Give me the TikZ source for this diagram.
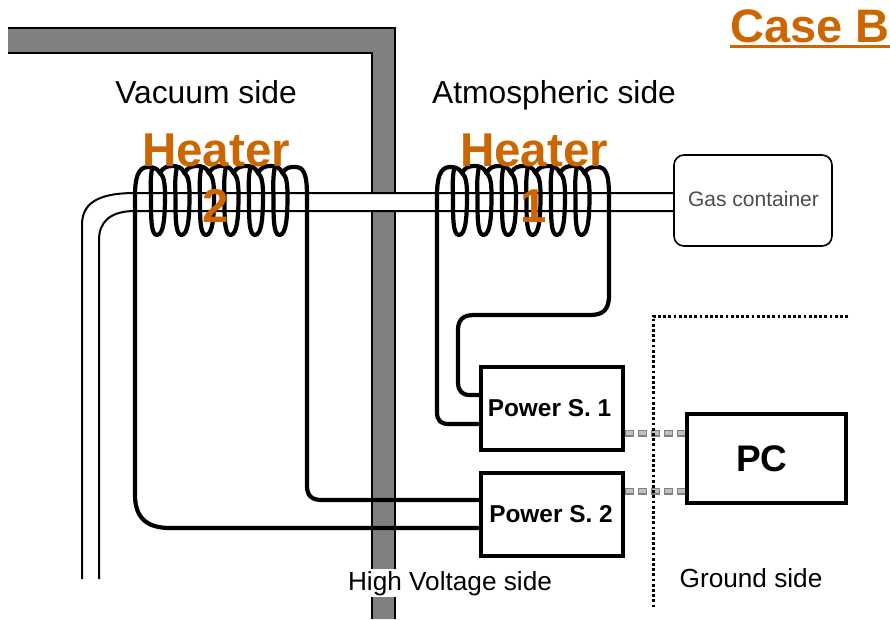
\documentclass[tikz,border=0pt]{standalone}
\usepackage{fontspec}
\setmainfont{Liberation Sans}
\definecolor{orng}{RGB}{204,102,0}
\definecolor{wallgray}{RGB}{128,128,128}
\newcommand{\coilpath}[1]{%
  \begin{scope}[xshift=#1 pt]
  \draw[wire]
    (135,196) .. controls (135,178) and (138,167) .. (148,167)
    .. controls (153,167) and (157,168) .. (160,173)
    foreach \c in {160,184.5,209,233.5,258}{
      .. controls (\c+3,167) and (\c+8,166) .. (\c+12.2,166)
      .. controls (\c+17,166) and (\c+22,167) .. (\c+24.5,173)
    }
    .. controls (286,167) and (290,167) .. (295,167)
    .. controls (303,167) and (307,172) .. (307,196);
  \foreach \c in {157,181.5,206,230.5,255,279.5}{
    \draw[wire] (\c-5,169)
      .. controls (\c-7,180) and (\c-6,190) .. (\c-6,200)
      .. controls (\c-6,218) and (\c-6,235) .. (\c,235)
      .. controls (\c+7,235) and (\c+8,215) .. (\c+8,195)
      .. controls (\c+8,184) and (\c+7,176) .. (\c+3,173);
  }
  \end{scope}}
\tikzset{
  wire/.style={line width=4.2pt,black,line join=round,line cap=round},
  tube/.style={line width=2pt,black},
  psbox/.style={draw=black,line width=4pt,fill=white,minimum width=142pt,minimum height=83pt,inner sep=0pt},
  pstext/.style={inner sep=0pt,font=\fontsize{24.4}{26}\selectfont\bfseries},
  lbl/.style={inner sep=0pt,anchor=base,font=\fontsize{31.8}{34}\selectfont},
  lblsmall/.style={inner sep=0pt,anchor=base,font=\fontsize{26.2}{30}\selectfont},
  heat/.style={inner sep=0pt,text=orng,font=\fontsize{47.5}{50}\selectfont\bfseries},
  linkout/.style={line width=7pt,black!50,dash pattern=on 8.5pt off 4.5pt},
  linkin/.style={line width=4.6pt,black!25,dash pattern=on 6.5pt off 6.5pt,dash phase=-1pt},
  bound/.style={line width=3pt,black,dash pattern=on 2.8pt off 2.4pt},
}
\begin{document}
\begin{tikzpicture}[x=1pt,y=-1pt]
\useasboundingbox (0,0) rectangle (890,619);
% wall
\fill[wallgray] (8,28) -- (395,28) -- (395,619) -- (372,619) -- (372,53) -- (8,53) -- cycle;
\draw[line width=1.4pt] (8,28) -- (395,28) -- (395,619);
\draw[line width=1.4pt] (8,53) -- (372,53) -- (372,619);
\fill[white] (371,569) rectangle (396,597);
% tube
\coordinate (tubeA) at (82,579);
\coordinate (tubeB) at (99,579);
\fill[white] (tubeA) -- (82,225) .. controls (82,205) and (95,193) .. (135,193) -- (674,193) -- (674,211) -- (135,211) .. controls (110,211) and (99,222) .. (99,240) -- (tubeB) -- cycle;
\draw[tube] (tubeA) -- (82,225) .. controls (82,205) and (95,193) .. (135,193) -- (674,193);
\draw[tube] (tubeB) -- (99,240) .. controls (99,222) and (110,211) .. (135,211) -- (674,211);
% nodes
\node[draw=black,line width=1.6pt,rounded corners=10pt,fill=white,minimum width=158pt,minimum height=91pt,inner sep=0pt] (gas) at (753,200.5) {};
\node[inner sep=0pt,anchor=base,text=black!70,font=\fontsize{21}{24}\selectfont] (gastext) at (753.5,206) {Gas container};
\node[psbox] (ps1) at (552,408.5) {};
\node[psbox] (ps2) at (552,514.5) {};
\node[pstext] (ps1t) at (549.5,408.5) {Power S. 1};
\node[pstext] (ps2t) at (551,514.5) {Power S. 2};
\node[draw=black,line width=4pt,fill=white,minimum width=159pt,minimum height=89pt,inner sep=0pt] (pc) at (766.5,458.5) {};
\node[inner sep=0pt,font=\fontsize{37}{40}\selectfont\bfseries] (pctext) at (762,458.5) {PC};
% leads
\coordinate (h1l) at (437,196);
\coordinate (h1r) at (609,196);
\coordinate (h2l) at (135,196);
\coordinate (h2r) at (307,196);
\coordinate (p1a) at (ps1.west |- 0,395);
\coordinate (p1b) at (ps1.west |- 0,424);
\coordinate (p2a) at (ps2.west |- 0,500);
\coordinate (p2b) at (ps2.west |- 0,528);
\draw[wire] (h1l) -- (437,412) .. controls (437,421) and (441,424) .. (449,424) -- (p1b);
\draw[wire] (h1r) -- (609,295) .. controls (609,310) and (603,315) .. (590,315) -- (474,315) .. controls (463,315) and (458,320) .. (458,330) -- (458,382) .. controls (458,391) and (462,395) .. (470,395) -- (p1a);
\draw[wire] (h2r) -- (307,486) .. controls (307,496) and (312,500) .. (322,500) -- (p2a);
\draw[wire] (h2l) -- (135,495) .. controls (135,518) and (147,528) .. (170,528) -- (p2b);
% coils
\coilpath{0}
\coilpath{302}
% data links
\draw[linkout] (ps1.east |- 0,433) -- (pc.west |- 0,433);
\draw[linkin] (ps1.east |- 0,433) -- (pc.west |- 0,433);
\draw[linkout] (ps2.east |- 0,491) -- (pc.west |- 0,491);
\draw[linkin] (ps2.east |- 0,491) -- (pc.west |- 0,491);
% ground boundary
\coordinate (bc) at (653,316);
\coordinate (be) at (848,316);
\coordinate (bs) at (653,608);
\draw[bound] (be) -- (bc) -- (bs);
% labels
\node[lbl] (t1) at (206,103) {Vacuum side};
\node[lbl] (t2) at (554,103) {Atmospheric side};
\node[lblsmall] (t3) at (450,590) {High Voltage side};
\node[lblsmall] (t4) at (751,587) {Ground side};
\node[heat] (h2a) at (216,150) {Heater};
\node[heat] (h2b) at (216,206) {2};
\node[heat] (h1a) at (534,150) {Heater};
\node[heat] (h1b) at (534,206) {1};
\node[heat,anchor=base east,font=\fontsize{47}{50}\selectfont\bfseries] (case) at (890,42) {Case B};
\draw[orng,line width=3pt] (730,46.5) -- (case.base east |- 0,46.5);
\end{tikzpicture}
\end{document}
